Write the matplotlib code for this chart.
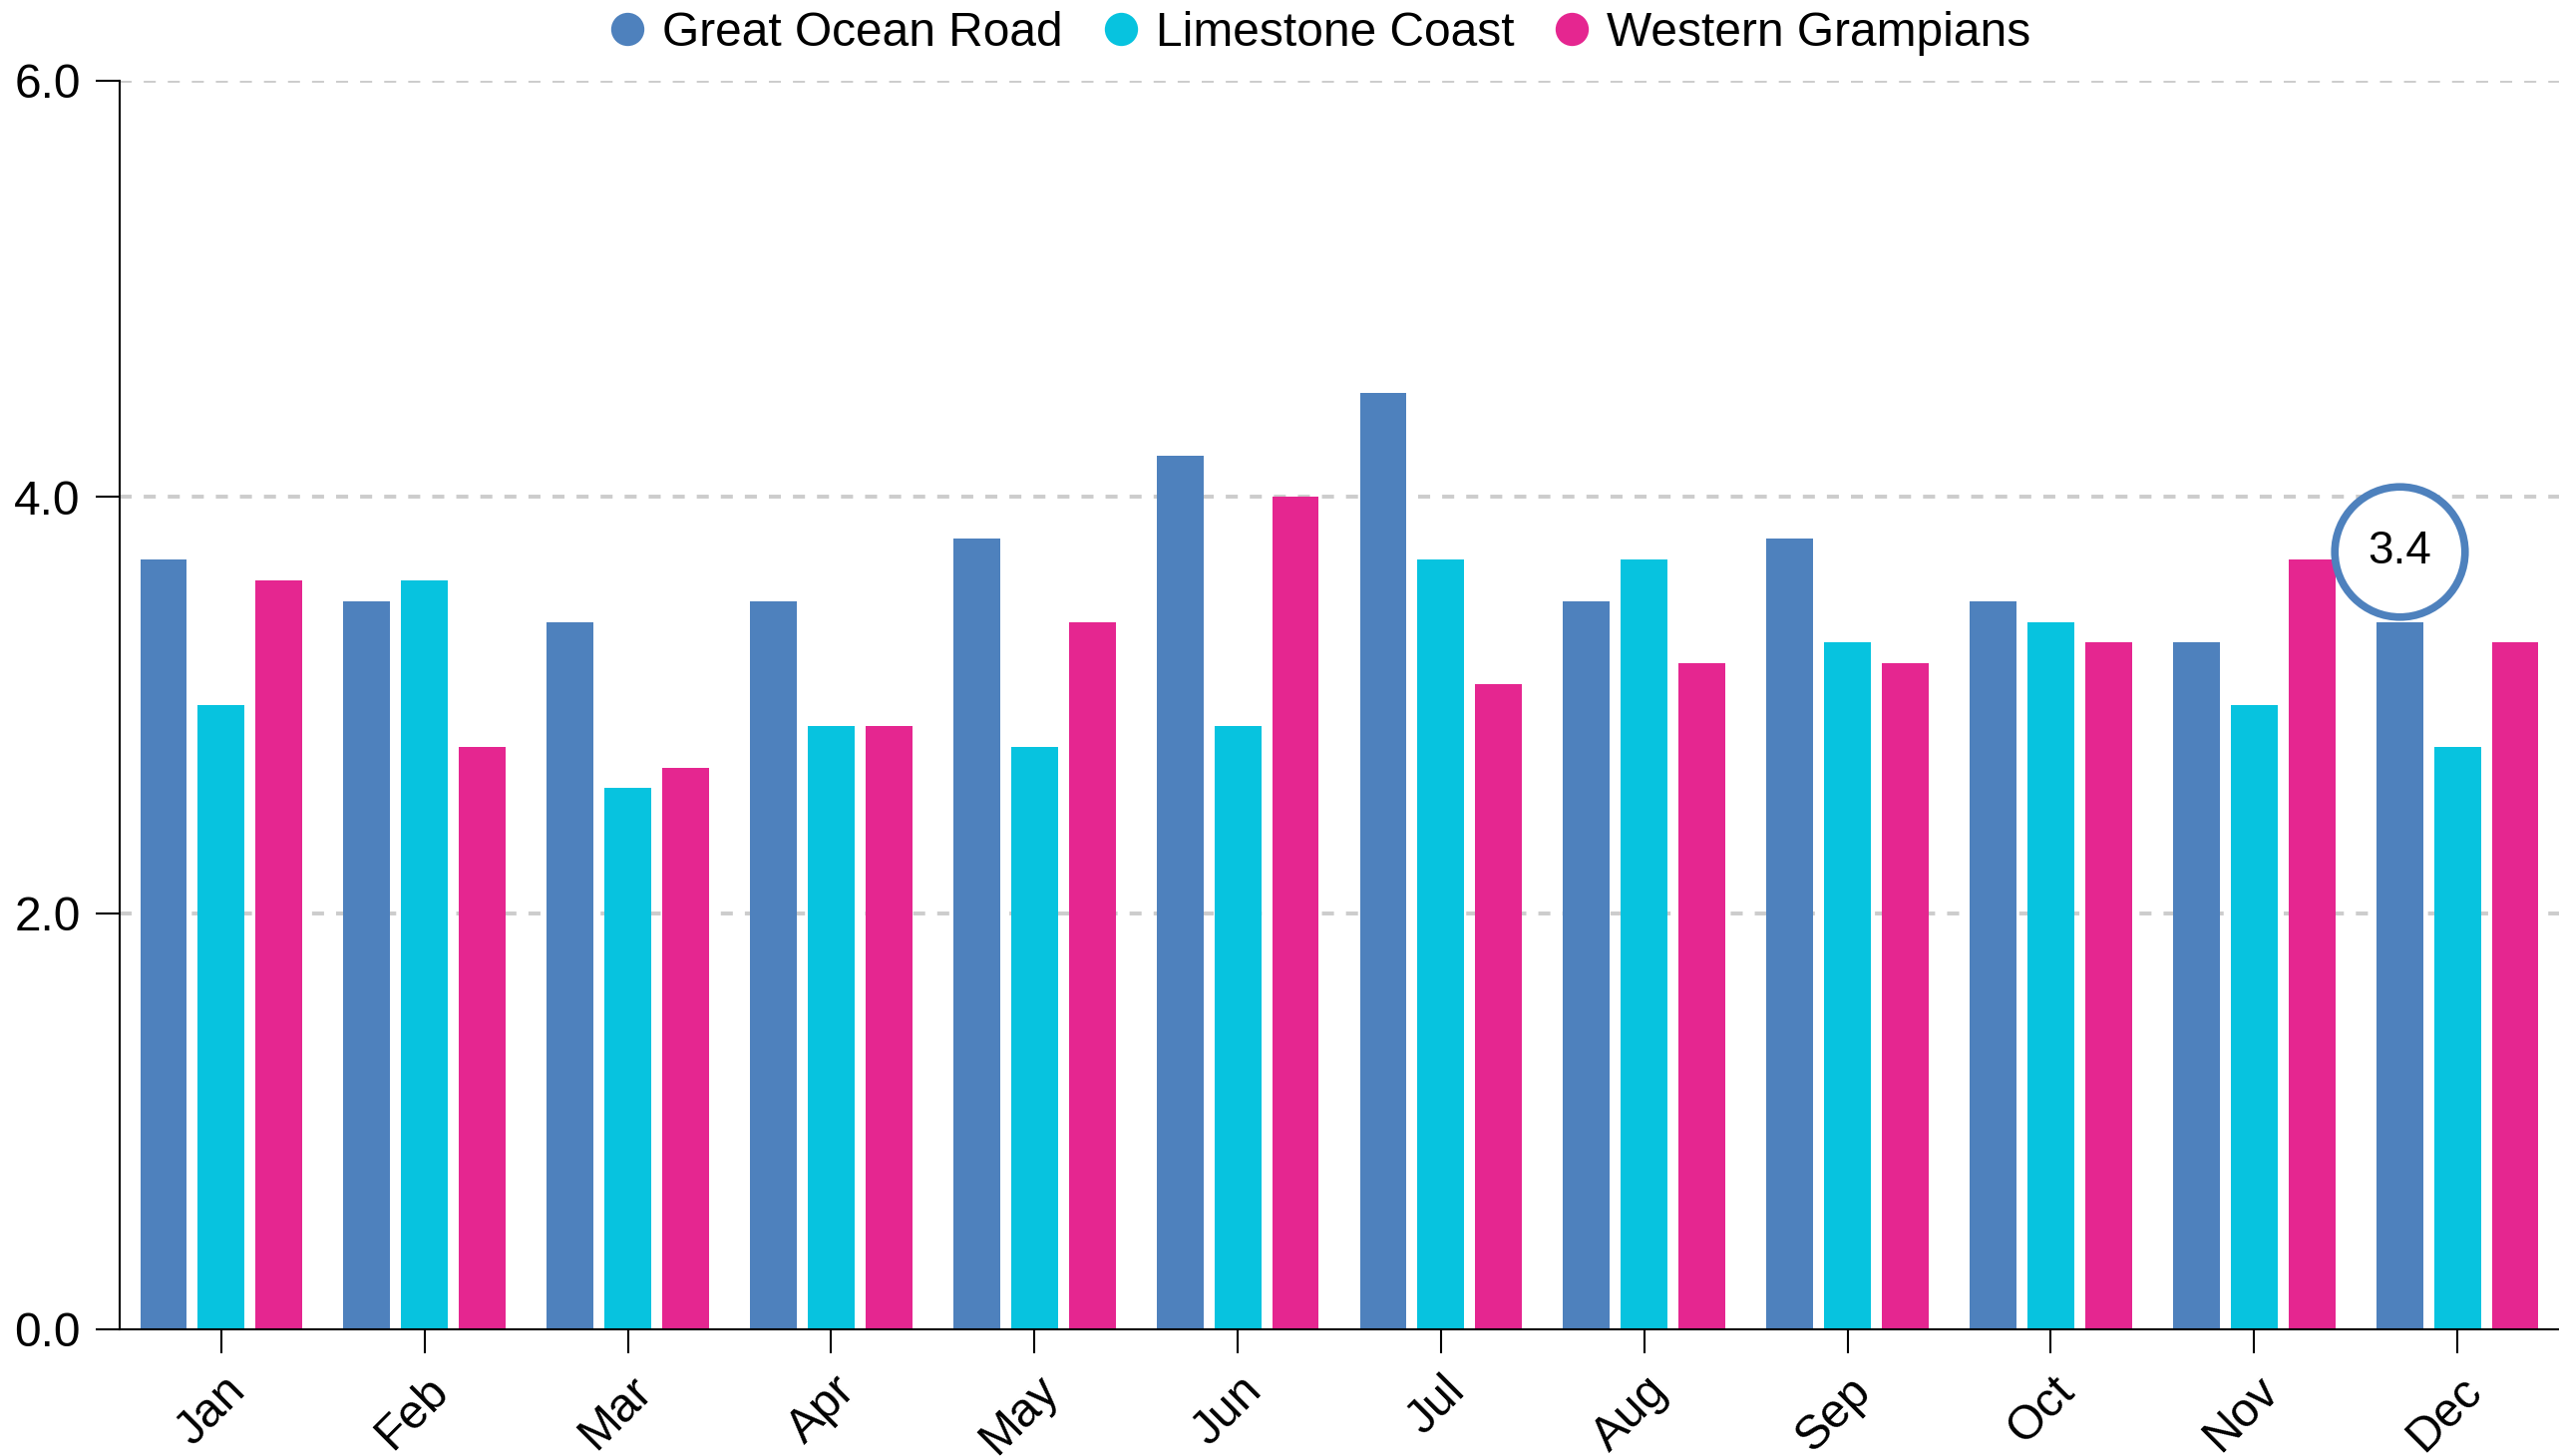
import numpy as np
import matplotlib
matplotlib.use("Agg")
import matplotlib.pyplot as plt
from matplotlib.lines import Line2D
from matplotlib.transforms import ScaledTranslation

plt.rcParams['font.family'] = ['Liberation Sans', 'DejaVu Sans']

# data
months = ['Jan', 'Feb', 'Mar', 'Apr', 'May', 'Jun', 'Jul', 'Aug', 'Sep', 'Oct', 'Nov', 'Dec']
series_names = ['Great Ocean Road', 'Limestone Coast', 'Western Grampians']
great_ocean_road = [3.7, 3.5, 3.4, 3.5, 3.8, 4.2, 4.5, 3.5, 3.8, 3.5, 3.3, 3.4]
limestone_coast = [3.0, 3.6, 2.6, 2.9, 2.8, 2.9, 3.7, 3.7, 3.3, 3.4, 3.0, 2.8]
western_grampians = [3.6, 2.8, 2.7, 2.9, 3.4, 4.0, 3.1, 3.2, 3.2, 3.3, 3.7, 3.3]
y_ticks = [0.0, 2.0, 4.0, 6.0]
highlight_series = 0
highlight_month = 'Dec'

colors = ['#4E81BD', '#07C3DF', '#E52690']

W, H, DPI = 2566, 1460, 100
FS = 34.5
fig = plt.figure(figsize=(W / DPI, H / DPI), dpi=DPI)
ax = fig.add_axes([120 / W, (H - 1333) / H, 1 - 120 / W, (1333 - 81) / H])

x = np.arange(len(months))
offsets = [-0.284, 0.0, 0.284]
bar_w = 0.23
all_series = [great_ocean_road, limestone_coast, western_grampians]
for vals, off, col, name in zip(all_series, offsets, colors, series_names):
    ax.bar(x + off, vals, width=bar_w, color=col, label=name, zorder=2)

ax.set_xlim(-0.5, len(months) - 0.5)
ax.set_ylim(0, 6)
ax.set_yticks(y_ticks)
ax.set_yticklabels([f'{v:.1f}' for v in y_ticks])
ax.set_xticks(x)
ax.set_xticklabels(months)

for t in y_ticks[1:]:
    ax.axhline(t, color='#cccccc', linewidth=2.8, linestyle=(0, (3.1, 3.1)), zorder=1)

for s in ['top', 'right']:
    ax.spines[s].set_visible(False)
for s in ['left', 'bottom']:
    ax.spines[s].set_linewidth(1.5)
    ax.spines[s].set_color('black')

ax.tick_params(axis='y', length=17.3, width=1.5, pad=11, labelsize=FS)
ax.tick_params(axis='x', length=17.3, width=1.5, pad=22, labelsize=FS)

shift = ScaledTranslation(17 / DPI, 0, fig.dpi_scale_trans)
for lab in ax.get_xticklabels():
    lab.set_rotation(45)
    lab.set_ha('right')
    lab.set_va('center')
    lab.set_rotation_mode('anchor')
    lab.set_transform(lab.get_transform() + shift)

# highlighted value bubble
mi = months.index(highlight_month)
hv = all_series[highlight_series][mi]
hx = x[mi] + offsets[highlight_series]
up = ScaledTranslation(0, 71 / DPI, fig.dpi_scale_trans)
ax.plot([hx], [hv], marker='o', markersize=94, markerfacecolor='white',
        markeredgecolor=colors[highlight_series], markeredgewidth=5.5,
        transform=ax.transData + up, zorder=5, clip_on=False)
ax.text(hx, hv, f'{hv:.1f}', transform=ax.transData + up, ha='center', va='center',
        fontsize=33, zorder=6)

handles = [Line2D([], [], marker='o', linestyle='', markersize=24,
                  markerfacecolor=c, markeredgewidth=0) for c in colors]
fig.legend(handles, series_names, loc='center', bbox_to_anchor=(0.516, 1 - 33 / H),
           ncol=3, frameon=False, fontsize=FS, handlelength=0.72,
           handletextpad=0.37, columnspacing=0.85, borderpad=0, borderaxespad=0)

fig.savefig('out.png', dpi=DPI)
